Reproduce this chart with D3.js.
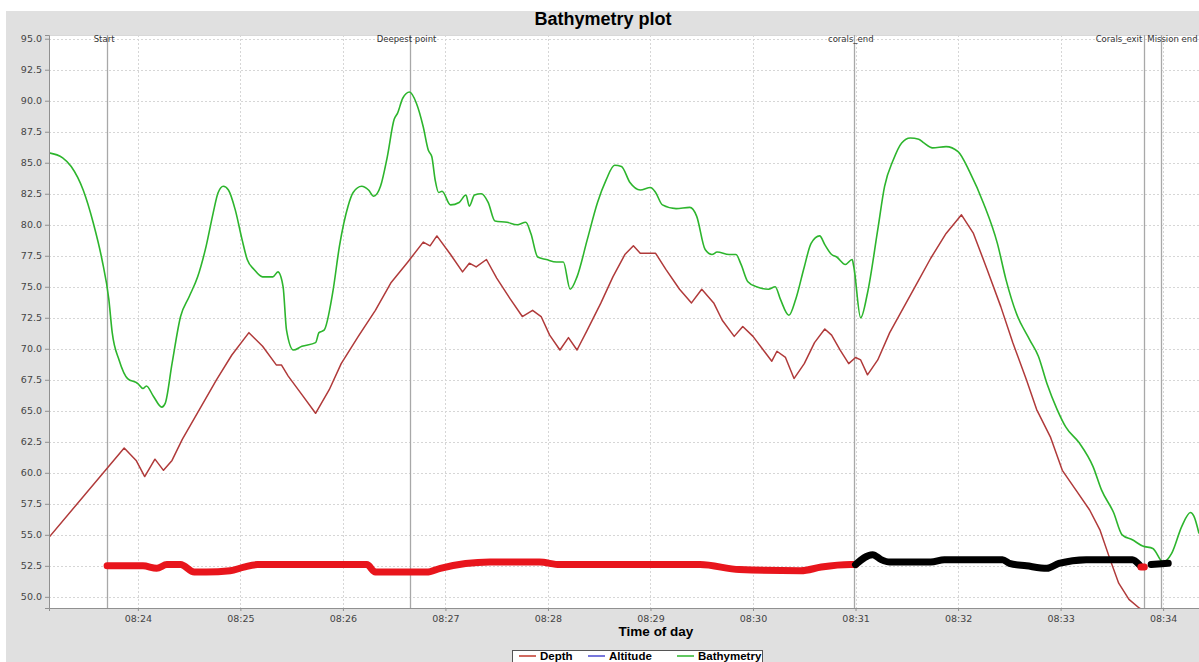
<!DOCTYPE html>
<html>
<head>
<meta charset="utf-8">
<script src="https://cdn.jsdelivr.net/npm/d3@7"></script>
<style>
  body { margin: 0; background: #fff; }
  svg { display: block; }
</style>
</head>
<body>
<svg id="chart" width="1199" height="662"></svg>
<script>
// ---- time window and axis ticks ----
const timeDomain = ["08:23:08", "08:34:21"];
const depthTicks = [50, 52.5, 55, 57.5, 60, 62.5, 65, 67.5, 70, 72.5, 75, 77.5, 80, 82.5, 85, 87.5, 90, 92.5, 95];

// ---- Depth series ----
const depthTimes = [
  "08:23:08","08:23:52","08:23:59","08:24:04","08:24:10","08:24:15","08:24:20","08:24:26","08:24:36","08:24:46",
  "08:24:55","08:25:05","08:25:13","08:25:21","08:25:24","08:25:28","08:25:36","08:25:44","08:25:52","08:25:59",
  "08:26:09","08:26:19","08:26:28","08:26:38","08:26:47","08:26:51","08:26:55","08:27:03","08:27:10","08:27:14",
  "08:27:18","08:27:24","08:27:30","08:27:38","08:27:45","08:27:51","08:27:56","08:28:01","08:28:07","08:28:12",
  "08:28:17","08:28:23","08:28:31","08:28:38","08:28:45","08:28:50","08:28:54","08:29:03","08:29:09","08:29:17",
  "08:29:24","08:29:30","08:29:37","08:29:42","08:29:49","08:29:54","08:30:00","08:30:06","08:30:11","08:30:14",
  "08:30:19","08:30:24","08:30:30","08:30:36","08:30:42","08:30:46","08:30:51","08:30:56","08:31:00","08:31:03",
  "08:31:07","08:31:13","08:31:20","08:31:28","08:31:36","08:31:44","08:31:53","08:32:02","08:32:09","08:32:17",
  "08:32:25","08:32:32","08:32:40","08:32:46","08:32:54","08:33:01","08:33:09","08:33:17","08:33:23","08:33:29",
  "08:33:34","08:33:40","08:33:46","08:33:50"
];
const depthValues = [
  54.8,62.0,61.0,59.7,61.1,60.2,61.0,62.7,65.1,67.5,
  69.5,71.3,70.2,68.7,68.7,67.8,66.3,64.8,66.7,68.8,
  71.0,73.1,75.3,77.0,78.6,78.3,79.1,77.6,76.2,76.9,
  76.6,77.2,75.7,74.0,72.6,73.1,72.6,71.1,69.9,70.9,
  69.9,71.5,73.7,75.8,77.6,78.3,77.7,77.7,76.4,74.8,
  73.7,74.8,73.7,72.3,71.0,71.8,71.0,69.9,69.0,69.8,
  69.3,67.6,68.8,70.5,71.6,71.1,69.9,68.8,69.3,69.1,
  67.9,69.1,71.3,73.3,75.3,77.3,79.3,80.8,79.3,76.4,
  73.4,70.5,67.5,65.1,62.9,60.2,58.6,57.0,55.4,53.0,
  51.1,49.8,49.1,48.8
];

// ---- Bathymetry series ----
const bathyTimes = [
  "08:23:08","08:23:16","08:23:21","08:23:28","08:23:34","08:23:39","08:23:43","08:23:45","08:23:49","08:23:54",
  "08:24:00","08:24:03","08:24:05","08:24:09","08:24:14","08:24:16","08:24:20","08:24:25","08:24:30","08:24:35",
  "08:24:40","08:24:44","08:24:47","08:24:50","08:24:53","08:24:57","08:25:01","08:25:04","08:25:08","08:25:13",
  "08:25:19","08:25:22","08:25:25","08:25:27","08:25:31","08:25:36","08:25:44","08:25:46","08:25:49","08:25:54",
  "08:25:58","08:26:03","08:26:06","08:26:11","08:26:15","08:26:18","08:26:22","08:26:26","08:26:30","08:26:32",
  "08:26:35","08:26:39","08:26:43","08:26:47","08:26:50","08:26:52","08:26:54","08:26:56","08:26:58","08:27:03",
  "08:27:08","08:27:12","08:27:14","08:27:17","08:27:21","08:27:25","08:27:29","08:27:36","08:27:42","08:27:47",
  "08:27:50","08:27:54","08:27:59","08:28:05","08:28:09","08:28:13","08:28:17","08:28:23","08:28:29","08:28:34",
  "08:28:39","08:28:43","08:28:48","08:28:54","08:29:00","08:29:03","08:29:07","08:29:15","08:29:23","08:29:27",
  "08:29:32","08:29:36","08:29:39","08:29:46","08:29:50","08:29:53","08:29:57","08:30:02","08:30:09","08:30:13",
  "08:30:16","08:30:21","08:30:25","08:30:30","08:30:34","08:30:39","08:30:42","08:30:46","08:30:49","08:30:54",
  "08:30:58","08:30:59","08:31:03","08:31:07","08:31:13","08:31:17","08:31:22","08:31:27","08:31:32","08:31:37",
  "08:31:40","08:31:45","08:31:53","08:32:00","08:32:07","08:32:15","08:32:23","08:32:28","08:32:34","08:32:42",
  "08:32:47","08:32:52","08:32:58","08:33:03","08:33:11","08:33:19","08:33:24","08:33:31","08:33:36","08:33:42",
  "08:33:48","08:33:54","08:34:00","08:34:05","08:34:11","08:34:16","08:34:18","08:34:21"
];
const bathyValues = [
  85.8,85.4,84.7,82.8,80.1,77.2,74.0,71.3,69.1,67.6,
  67.2,66.8,67.0,66.2,65.3,65.6,68.8,72.6,74.2,75.8,
  78.3,80.9,82.6,83.1,82.8,81.2,78.8,77.2,76.4,75.8,
  75.8,76.2,75.0,71.5,69.9,70.2,70.5,71.3,71.5,74.5,
  78.3,81.5,82.6,83.1,82.8,82.3,83.1,85.5,88.5,89.0,
  90.2,90.7,89.8,87.9,86.0,85.5,83.6,82.6,82.7,81.6,
  81.8,82.4,81.5,82.4,82.5,81.8,80.3,80.2,80.0,80.2,
  79.3,77.4,77.2,77.0,77.0,74.8,75.8,78.8,81.8,83.6,
  84.8,84.7,83.4,82.8,83.0,82.6,81.6,81.3,81.4,80.7,
  78.0,77.6,77.8,77.6,77.6,76.8,75.4,75.0,74.8,75.0,
  74.0,72.7,74.0,76.6,78.5,79.1,78.4,77.6,77.4,76.8,
  77.2,76.6,72.5,74.5,79.6,83.1,85.2,86.6,87.0,86.9,
  86.6,86.2,86.3,85.9,84.2,81.7,78.5,75.6,72.9,70.7,
  69.4,67.2,65.1,63.7,62.4,60.5,58.6,56.8,55.0,54.6,
  54.1,53.9,52.8,53.5,55.7,56.8,56.5,55.1
];

// ---- Vehicle track trace (flag 0 = red run, flag 1 = black run) ----
const trackTimes = [
  "08:23:42","08:24:03","08:24:11","08:24:17","08:24:25","08:24:33","08:24:40","08:24:54","08:25:02","08:25:10",
  "08:26:14","08:26:19","08:26:49","08:26:57","08:27:26","08:27:55","08:28:07","08:29:29","08:29:52","08:30:28",
  "08:30:40","08:30:57","08:31:00",
  "08:31:00","08:31:10","08:31:15","08:31:20","08:31:44","08:31:52","08:32:26","08:32:30","08:32:40","08:32:52",
  "08:32:59","08:33:15","08:33:42","08:33:46",
  "08:33:47","08:33:49",
  "08:33:53","08:34:03"
];
const trackValues = [
  52.5,52.5,52.3,52.6,52.6,52.0,52.0,52.1,52.4,52.6,
  52.6,52.0,52.0,52.3,52.8,52.8,52.6,52.6,52.2,52.1,
  52.4,52.6,52.6,
  52.6,53.4,53.0,52.8,52.8,53.0,53.0,52.7,52.5,52.3,
  52.7,53.0,53.0,52.6,
  52.4,52.4,
  52.6,52.7
];
const trackFlags = [
  0,0,0,0,0,0,0,0,0,0,
  0,0,0,0,0,0,0,0,0,0,
  0,0,0,
  1,1,1,1,1,1,1,1,1,1,
  1,1,1,1,
  0,0,
  1,1
];

// ---- Event markers ----
const markerTimes = ["08:23:42", "08:26:39", "08:30:59", "08:33:49", "08:33:59"];
const markerLabels = ["Start", "Deepest point", "corals_end", "Corals_exit", "Mission end"];

// ---- Legend ----
const legendNames = ["Depth", "Altitude", "Bathymetry"];
const legendColours = ["#c0392b", "#4a4ad0", "#2db52d"];

// ================= drawing =================
const parse = d3.timeParse("%H:%M:%S");
const svg = d3.select("#chart");
const plot = { left: 49, right: 1199, top: 35, bottom: 608 };

const x = d3.scaleTime()
  .domain(timeDomain.map(parse))
  .range([plot.left, plot.right]);
const y = d3.scaleLinear()
  .domain([49.1, 95.3])
  .range([plot.bottom, plot.top]);

// panel background
svg.append("rect").attr("x", 6).attr("y", 11).attr("width", 1193).attr("height", 651).attr("fill", "#e0e0e0");
svg.append("rect")
  .attr("x", plot.left).attr("y", plot.top)
  .attr("width", plot.right - plot.left).attr("height", plot.bottom - plot.top)
  .attr("fill", "#ffffff");

svg.append("defs").append("clipPath").attr("id", "plotClip")
  .append("rect")
  .attr("x", plot.left).attr("y", plot.top)
  .attr("width", plot.right - plot.left).attr("height", plot.bottom - plot.top);

// grid lines
const minuteTicks = x.ticks(d3.timeMinute.every(1));
const grid = svg.append("g").attr("stroke", "#d6d6d6").attr("stroke-width", 1).attr("stroke-dasharray", "2,2");
grid.selectAll("line.h").data(depthTicks).join("line")
  .attr("x1", plot.left).attr("x2", plot.right)
  .attr("y1", d => Math.round(y(d)) + 0.5).attr("y2", d => Math.round(y(d)) + 0.5);
grid.selectAll("line.v").data(minuteTicks).join("line")
  .attr("x1", d => Math.round(x(d)) + 0.5).attr("x2", d => Math.round(x(d)) + 0.5)
  .attr("y1", plot.top).attr("y2", plot.bottom);

// plot frame
svg.append("line").attr("x1", plot.left).attr("x2", plot.right).attr("y1", plot.top + 0.5).attr("y2", plot.top + 0.5)
  .attr("stroke", "#d8d8d8");

// event marker lines
const markers = markerTimes.map((t, i) => ({ t: parse(t), label: markerLabels[i] }));
svg.append("g").selectAll("line").data(markers).join("line")
  .attr("x1", d => Math.round(x(d.t)) + 0.5).attr("x2", d => Math.round(x(d.t)) + 0.5)
  .attr("y1", plot.top).attr("y2", plot.bottom)
  .attr("stroke", "#a8a8a8").attr("stroke-width", 1.3);

// series lines: the sounder trace is smoothed, depth and track stay straight
const linearLine = d3.line().x(d => x(d.t)).y(d => y(d.v)).curve(d3.curveLinear);
const smoothLine = d3.line().x(d => x(d.t)).y(d => y(d.v)).curve(d3.curveMonotoneX);
const series = (times, values) => times.map((t, i) => ({ t: parse(t), v: values[i] }));

const lines = svg.append("g").attr("clip-path", "url(#plotClip)");
lines.append("path").datum(series(bathyTimes, bathyValues))
  .attr("d", smoothLine).attr("fill", "none")
  .attr("stroke", legendColours[2]).attr("stroke-width", 1.6).attr("stroke-linejoin", "round");
lines.append("path").datum(series(depthTimes, depthValues))
  .attr("d", linearLine).attr("fill", "none")
  .attr("stroke", "#b03a3a").attr("stroke-width", 1.5).attr("stroke-linejoin", "round");

// track trace, split into runs by flag
const trackPts = trackTimes.map((t, i) => ({ t: parse(t), v: trackValues[i], f: trackFlags[i] }));
const runs = [];
trackPts.forEach(p => {
  const last = runs[runs.length - 1];
  if (last && last.f === p.f) last.pts.push(p);
  else runs.push({ f: p.f, pts: [p] });
});
lines.selectAll("path.track").data(runs).join("path")
  .attr("class", "track")
  .attr("d", r => r.pts.length > 1 ? smoothLine(r.pts) : null)
  .attr("fill", "none")
  .attr("stroke", r => r.f === 1 ? "#000000" : "#e8151c")
  .attr("stroke-width", 7)
  .attr("stroke-linecap", "round")
  .attr("stroke-linejoin", "round");

// marker labels; the last two markers sit close together, so their labels
// are placed either side of the pair
const lastIdx = markers.length - 1;
svg.append("g").selectAll("text").data(markers).join("text")
  .attr("x", (d, i) => i === lastIdx - 1 ? x(d.t) - 2 : i === lastIdx ? x(markers[lastIdx - 1].t) + 3 : x(d.t) - 3)
  .attr("y", plot.top + 7)
  .attr("text-anchor", (d, i) => i === lastIdx - 1 ? "end" : i === lastIdx ? "start" : "middle")
  .attr("font-family", "DejaVu Sans, sans-serif").attr("font-size", 8.5)
  .attr("fill", "#333")
  .text(d => d.label);

// axes
const yAxis = svg.append("g").attr("transform", `translate(${plot.left},0)`)
  .call(d3.axisLeft(y).tickValues(depthTicks).tickFormat(d3.format(".1f")).tickSize(4).tickPadding(3));
const xAxis = svg.append("g").attr("transform", `translate(0,${plot.bottom})`)
  .call(d3.axisBottom(x).ticks(d3.timeMinute.every(1)).tickFormat(d3.timeFormat("%H:%M")).tickSize(3).tickPadding(4));
[yAxis, xAxis].forEach(a => {
  a.select(".domain").attr("stroke", "#909090");
  a.selectAll(".tick line").attr("stroke", "#909090");
  a.selectAll("text").attr("font-family", "DejaVu Sans, sans-serif").attr("font-size", 9.5).attr("fill", "#444");
});

// titles
svg.append("text").attr("x", 603).attr("y", 25).attr("text-anchor", "middle")
  .attr("font-family", "Liberation Sans, Arial, sans-serif").attr("font-weight", "bold").attr("font-size", 18)
  .text("Bathymetry plot");
svg.append("text").attr("x", 656).attr("y", 636).attr("text-anchor", "middle")
  .attr("font-family", "Liberation Sans, Arial, sans-serif").attr("font-weight", "bold").attr("font-size", 13.5)
  .text("Time of day");

// legend
const legend = svg.append("g");
legend.append("rect").attr("x", 512.5).attr("y", 650.5).attr("width", 250).attr("height", 20)
  .attr("fill", "#fff").attr("stroke", "#555");
const legendX = [519, 588, 677];
legendNames.forEach((name, i) => {
  legend.append("line").attr("x1", legendX[i]).attr("x2", legendX[i] + 17)
    .attr("y1", 656).attr("y2", 656).attr("stroke", legendColours[i]).attr("stroke-width", 1.5);
  legend.append("text").attr("x", legendX[i] + 21).attr("y", 660)
    .attr("font-family", "Liberation Sans, Arial, sans-serif").attr("font-weight", "bold").attr("font-size", 11.5)
    .text(name);
});
</script>
</body>
</html>
